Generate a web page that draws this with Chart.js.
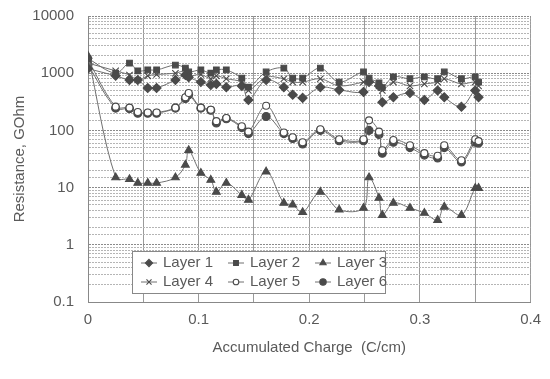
<!DOCTYPE html>
<html>
<head>
<meta charset="utf-8">
<script src="https://cdn.jsdelivr.net/npm/chart.js@4/dist/chart.umd.min.js"></script>
<style>
  html, body { margin: 0; padding: 0; background: #fff; }
  #wrap { width: 550px; height: 379px; }
</style>
</head>
<body>
<div id="wrap"><canvas id="chart" width="550" height="379"></canvas></div>
<script>
// accumulated charge (C/cm), same for every layer
const charge = [0, 0.025, 0.0375, 0.045, 0.054, 0.062, 0.079, 0.088, 0.091, 0.102, 0.111,
    0.116, 0.125, 0.139, 0.145, 0.161, 0.177, 0.185, 0.194, 0.21, 0.227, 0.249,
    0.254, 0.263, 0.266, 0.276, 0.291, 0.304, 0.316, 0.322, 0.3375, 0.35, 0.353]

// resistance, GOhm
const layer1 = [1200, 900, 760, 760, 550, 550, 760, 930, 850, 700, 620, 650, 570, 600, 340, 760,
    570, 420, 370, 570, 510, 470, 700, 600, 310, 380, 450, 340, 500, 380, 260, 500, 380]
const layer2 = [1800, 1000, 1500, 1100, 1140, 1140, 1390, 1230, 1050, 1140, 1000, 1140, 1140, 820,
    570, 1050, 1230, 820, 820, 1230, 700, 1050, 820, 680, 560, 860, 800, 860, 800, 1050, 800, 860, 700]
const layer3 = [2000, 15, 14, 12, 12, 12, 15, 25, 45, 18, 13.6, 8.4, 12, 7.4, 6.1, 19, 5.4, 5.0,
    3.7, 8.4, 4.1, 4.4, 15, 6.6, 3.3, 5.4, 4.4, 3.6, 2.7, 4.6, 3.3, 9.8, 9.8]
const layer4 = [1500, 1100, 930, 760, 900, 950, 1000, 1100, 900, 950, 800, 900, 800, 700, 500, 850,
    800, 700, 700, 800, 600, 700, 760, 600, 500, 700, 600, 650, 700, 800, 650, 700, 600]
const layer5 = [1700, 260, 250, 210, 205, 205, 250, 380, 450, 250, 230, 145, 165, 118, 95, 270,
    92, 76, 62, 105, 70, 70, 150, 95, 45, 68, 55, 40, 36, 55, 30, 70, 65]
const layer6 = [1400, 245, 240, 200, 200, 200, 245, 360, 420, 245, 225, 135, 160, 112, 88, 175,
    88, 72, 58, 100, 66, 66, 100, 85, 40, 62, 50, 37, 33, 50, 28, 62, 60]

const xTicks = [0, 0.1, 0.2, 0.3, 0.4]
const yTicks = [0.1, 1, 10, 100, 1000, 10000]

const ink = '#4a4a4a'
const txt = '#5a5a5a'
const font = 'Liberation Sans, Arial, sans-serif'

function pts(ys) {
    return charge.map((c, i) => ({x: c, y: ys[i]}))
}

function series(label, ys, style, radius, fill) {
    return {
        label: label,
        data: pts(ys),
        showLine: true,
        borderColor: '#707070',
        borderWidth: 1,
        tension: 0.35,
        pointStyle: style,
        pointRadius: radius,
        pointBackgroundColor: fill,
        pointBorderColor: ink,
        pointBorderWidth: 1.1
    }
}

function drawMarker(ctx, style, x, y, r, fill) {
    ctx.save()
    ctx.fillStyle = fill
    ctx.strokeStyle = ink
    ctx.lineWidth = 1.1
    ctx.beginPath()
    if (style === 'rectRot') {
        ctx.moveTo(x, y - r); ctx.lineTo(x + r, y); ctx.lineTo(x, y + r); ctx.lineTo(x - r, y); ctx.closePath()
    } else if (style === 'rect') {
        ctx.rect(x - r * 0.75, y - r * 0.75, r * 1.5, r * 1.5)
    } else if (style === 'triangle') {
        ctx.moveTo(x, y - r); ctx.lineTo(x + r * 0.87, y + r * 0.5); ctx.lineTo(x - r * 0.87, y + r * 0.5); ctx.closePath()
    } else if (style === 'crossRot') {
        ctx.moveTo(x - r * 0.7, y - r * 0.7); ctx.lineTo(x + r * 0.7, y + r * 0.7)
        ctx.moveTo(x + r * 0.7, y - r * 0.7); ctx.lineTo(x - r * 0.7, y + r * 0.7)
        ctx.stroke(); ctx.restore(); return
    } else {
        ctx.arc(x, y, r, 0, Math.PI * 2)
    }
    ctx.fill()
    ctx.stroke()
    ctx.restore()
}

// legend drawn inside the plot, bottom left, 3 columns x 2 rows
const insideLegend = {
    id: 'insideLegend',
    afterDraw(chart) {
        const ctx = chart.ctx
        const area = chart.chartArea
        const bx = area.left + 44, by = area.bottom - 51, bw = 253, bh = 42
        ctx.save()
        ctx.fillStyle = '#fff'
        ctx.fillRect(bx, by, bw, bh)
        ctx.strokeStyle = '#888'
        ctx.lineWidth = 1
        ctx.strokeRect(bx + 0.5, by + 0.5, bw, bh)
        ctx.font = '15px ' + font
        ctx.textBaseline = 'middle'
        chart.data.datasets.forEach((ds, i) => {
            const col = i % 3, row = Math.floor(i / 3)
            const cx = bx + 17 + col * 87
            const cy = by + 12 + row * 19
            ctx.strokeStyle = '#707070'
            ctx.lineWidth = 1
            ctx.beginPath()
            ctx.moveTo(cx - 8, cy); ctx.lineTo(cx + 8, cy)
            ctx.stroke()
            drawMarker(ctx, ds.pointStyle, cx, cy, ds.pointRadius * 0.8, ds.pointBackgroundColor)
            ctx.fillStyle = txt
            ctx.fillText(ds.label, cx + 14, cy)
        })
        ctx.restore()
    }
}

const ctx = document.getElementById('chart').getContext('2d')
const chart = new Chart(ctx, {
    type: 'scatter',
    data: {
        datasets: [
            series('Layer 1', layer1, 'rectRot', 4.5, ink),
            series('Layer 2', layer2, 'rect', 4, ink),
            series('Layer 3', layer3, 'triangle', 4.5, ink),
            series('Layer 4', layer4, 'crossRot', 4.5, ink),
            series('Layer 5', layer5, 'circle', 3.5, '#fff'),
            series('Layer 6', layer6, 'circle', 4, ink)
        ]
    },
    options: {
        responsive: false,
        animation: false,
        layout: {padding: {left: 0, right: 14, top: 16, bottom: 0}},
        plugins: {
            legend: {display: false},
            tooltip: {enabled: false}
        },
        scales: {
            x: {
                type: 'linear',
                min: 0,
                max: 0.4,
                afterFit: s => { s.height = 77 },
                ticks: {
                    stepSize: 0.05,
                    autoSkip: false,
                    maxRotation: 0,
                    padding: 9,
                    color: txt,
                    font: {family: font, size: 15},
                    callback: v => {
                        const t = xTicks.find(k => Math.abs(k - v) < 1e-9)
                        return t === undefined ? '' : String(t)
                    }
                },
                grid: {color: '#9a9a9a', lineWidth: 1, drawTicks: false},
                border: {color: '#888'},
                title: {
                    display: true,
                    text: 'Accumulated Charge  (C/cm)',
                    color: txt,
                    font: {family: font, size: 15},
                    padding: {top: 0, bottom: 22}
                }
            },
            y: {
                type: 'logarithmic',
                min: 0.1,
                max: 10000,
                afterFit: s => {
                    s.width = 88
                    s.paddingTop = 0
                    s.paddingBottom = 0
                },
                ticks: {
                    autoSkip: false,
                    padding: 14,
                    color: txt,
                    font: {family: font, size: 15},
                    callback: v => {
                        const t = yTicks.find(k => Math.abs(k - v) < k * 1e-6)
                        return t === undefined ? '' : String(t)
                    }
                },
                grid: {
                    color: c => (c.tick && yTicks.some(k => Math.abs(k - c.tick.value) < k * 1e-6)) ? '#8a8a8a' : '#b5b5b5',
                    lineWidth: 1,
                    drawTicks: false
                },
                border: {color: '#888', dash: [2, 1]},
                title: {
                    display: true,
                    text: 'Resistance, GOhm',
                    color: txt,
                    font: {family: font, size: 15},
                    padding: {top: 11, bottom: 0}
                }
            }
        }
    },
    plugins: [insideLegend]
})
</script>
</body>
</html>
